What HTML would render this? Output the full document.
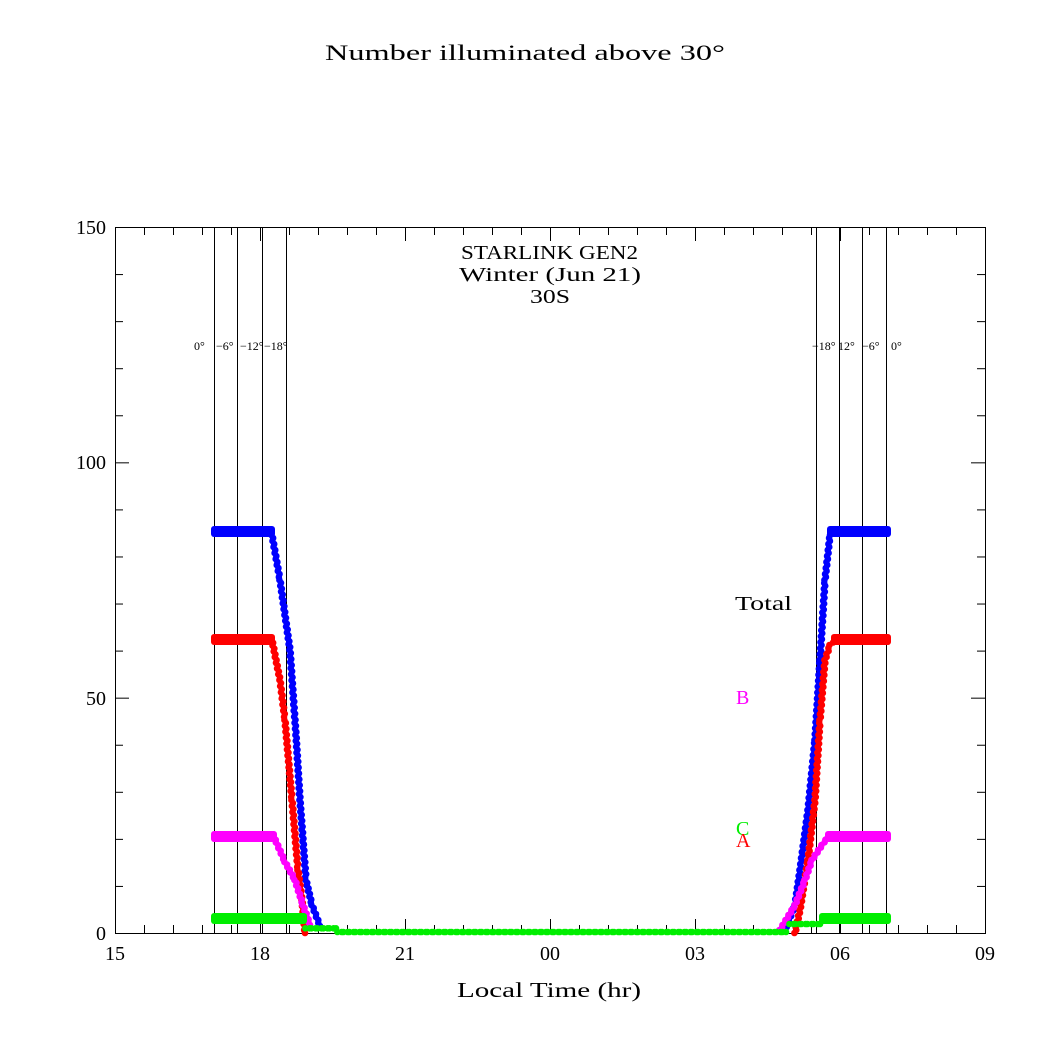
<!DOCTYPE html>
<html><head><meta charset="utf-8"><style>
html,body{margin:0;padding:0;background:#fff;}
svg text{font-family:"Liberation Serif",serif;}
</style></head><body>
<svg id="s" width="1046" height="1046" xmlns="http://www.w3.org/2000/svg">
<rect width="1046" height="1046" fill="#fff"/>
<text x="325" y="60" font-size="22" textLength="400" lengthAdjust="spacingAndGlyphs">Number illuminated above 30°</text>
<g id="ax" stroke="#000" stroke-width="1" fill="none">
<rect x="115.5" y="227.5" width="870" height="706"/>
</g>
<g id="vl" stroke="#000" stroke-width="1"></g>
<g id="pts"></g>
<g font-size="20" text-anchor="middle">
<text x="115" y="960">15</text><text x="260" y="960">18</text><text x="405" y="960">21</text>
<text x="550" y="960">00</text><text x="695" y="960">03</text><text x="840" y="960">06</text><text x="985" y="960">09</text>
</g>
<g font-size="20" text-anchor="end">
<text x="106" y="940">0</text><text x="106" y="705">50</text><text x="106" y="469">100</text><text x="106" y="234">150</text>
</g>
<text x="457" y="997" font-size="21" textLength="184" lengthAdjust="spacingAndGlyphs">Local Time (hr)</text>
<g font-size="20">
<text x="461" y="259" textLength="177" lengthAdjust="spacingAndGlyphs">STARLINK GEN2</text>
<text x="459" y="281" textLength="182" lengthAdjust="spacingAndGlyphs">Winter (Jun 21)</text>
<text x="530" y="303" textLength="40" lengthAdjust="spacingAndGlyphs">30S</text>
</g>
<g font-size="12">
<text x="194" y="350">0°</text><text x="216" y="350">−6°</text><text x="240" y="350">−12°</text><text x="264" y="350">−18°</text>
<text x="812" y="350">−18°</text><text x="838" y="350">12°</text><text x="862" y="350">−6°</text><text x="891" y="350">0°</text>
</g>
<text x="735" y="610" font-size="20" textLength="57" lengthAdjust="spacingAndGlyphs">Total</text>
<text x="736" y="704" font-size="20" fill="#ff00ff">B</text>
<text x="736" y="835" font-size="20" fill="#00ee00">C</text>
<text x="736" y="847" font-size="20" fill="#ff0000">A</text>
</svg>
<script>
var NS="http://www.w3.org/2000/svg";
function el(p,t,a){var e=document.createElementNS(NS,t);for(var k in a)e.setAttribute(k,a[k]);p.appendChild(e);return e;}
var ax=document.getElementById('ax');
var X0=115,X1=985,Y0=933,Y1=227;
for(var i=0;i<=30;i++){var x=X0+i*29;var L=(i%5==0)?14:8;
 el(ax,'line',{x1:x+.5,y1:Y0,x2:x+.5,y2:Y0-L});el(ax,'line',{x1:x+.5,y1:Y1,x2:x+.5,y2:Y1+L});}
for(var v=0;v<=150;v+=10){var y=Y0-v*706/150;var L=(v%50==0)?14:8;
 el(ax,'line',{x1:X0,y1:y+.5,x2:X0+L,y2:y+.5});el(ax,'line',{x1:X1,y1:y+.5,x2:X1-L,y2:y+.5});}
var vl=document.getElementById('vl');
[214,237,262,286,816,839,862,886].forEach(function(x){el(vl,'line',{x1:x+.5,y1:Y1,x2:x+.5,y2:Y0});});
var P=document.getElementById('pts');
function series(pts,c){
 for(var j=0;j<pts.length-1;j++){var a=pts[j],b=pts[j+1];
  var d=Math.hypot(b[0]-a[0],b[1]-a[1]);
  var n=Math.max(1,Math.round(d/3));
  for(var k=0;k<n;k++){var t=k/n;el(P,'circle',{cx:a[0]+(b[0]-a[0])*t+(k%2?0.6:-0.6),cy:a[1]+(b[1]-a[1])*t,r:3.3,fill:c});}}
 var l=pts[pts.length-1];el(P,'circle',{cx:l[0],cy:l[1],r:3.3,fill:c});}
function band(x0,x1,y,c){el(P,'rect',{x:x0-3,y:y-6,width:x1-x0+6,height:11,rx:3,fill:c});}
var vy=function(v){return Y0-v*706/150;};
band(214,272,532,'#0000ff');band(830,888,532,'#0000ff');
band(214,272,640,'#ff0000');band(834,888,640,'#ff0000');
band(214,274,837,'#ff00ff');band(828,888,837,'#ff00ff');
series([[272,535],[280,580],[290,650],[296,735],[300,800],[306,880],[312,905],[320,926]],'#0000ff');
series([[785,930],[795,905],[800,870],[808,810],[815,740],[820,660],[825,580],[830,535]],'#0000ff');
series([[272,640],[280,680],[285,720],[292,800],[298,870],[302,900],[305,933]],'#ff0000');
series([[795,933],[800,910],[808,860],[815,800],[820,720],[825,660],[830,645],[835,640]],'#ff0000');
series([[274,837],[285,862],[295,880],[303,905],[310,925]],'#ff00ff');
series([[780,930],[795,905],[805,880],[812,860],[822,845],[828,837]],'#ff00ff');
band(214,304,919,'#00ee00');band(822,888,919,'#00ee00');
series([[306,vy(1)],[336,vy(1)]],'#00ee00');
series([[338,932],[786,932]],'#00ee00');
series([[790,924],[820,924]],'#00ee00');
</script>
</body></html>
